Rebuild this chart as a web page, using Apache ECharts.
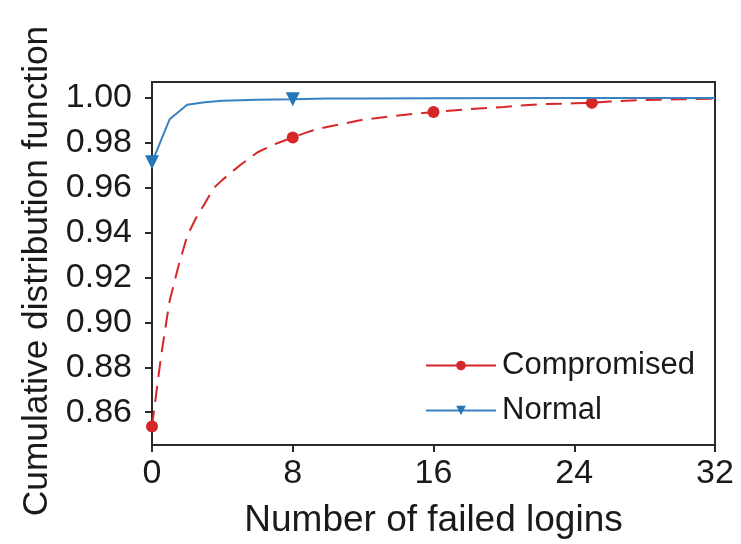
<!DOCTYPE html>
<html>
<head>
<meta charset="utf-8">
<title>CDF of failed logins</title>
<script src="https://cdn.jsdelivr.net/npm/echarts@6/dist/echarts.min.js"></script>
<style>
  html, body { margin: 0; padding: 0; background: #fff; }
  #chart { width: 741px; height: 544px; }
</style>
</head>
<body>
<div id="chart"></div>
<script>
// Number of failed logins (x) and cumulative fraction of accounts (y)
const compromisedX = [0, 0.25, 0.5, 0.75, 1, 1.5, 2, 2.5, 3, 3.5, 4, 5, 6, 7, 8, 9, 10, 12, 14, 16, 18, 20, 22, 24, 25, 26, 28, 30, 32];
const compromisedY = [0.8536, 0.869, 0.884, 0.897, 0.9095, 0.925, 0.9385, 0.9465, 0.953, 0.9598, 0.9635, 0.970, 0.9758, 0.9795, 0.9824, 0.9852, 0.9872, 0.9903, 0.9922, 0.9937, 0.9950, 0.9960, 0.9972, 0.9976, 0.9978, 0.9984, 0.9991, 0.9994, 0.9997];
const compromisedMarks = [0, 8, 16, 25];

const normalX = [0, 1, 2, 3, 4, 5, 6, 8, 10, 12, 16, 24, 32];
const normalY = [0.9713, 0.9905, 0.9970, 0.9981, 0.9987, 0.9990, 0.9992, 0.9994, 0.9997, 0.9998, 0.9999, 1.0, 1.0];
const normalMarks = [0, 8];

const xTicks = [0, 8, 16, 24, 32];
const yTicks = [0.86, 0.88, 0.90, 0.92, 0.94, 0.96, 0.98, 1.00];

const FONT = 'Liberation Sans, Arial, sans-serif';
const INK = '#1a1a1a';
const SPINE = '#2a2a2a';

// Pair x/y values; only the listed x positions carry a marker
function buildPoints(xs, ys, marks) {
  return xs.map((x, i) => marks.indexOf(x) >= 0
    ? { value: [x, ys[i]] }
    : { value: [x, ys[i]], symbol: 'none' });
}

const chart = echarts.init(document.getElementById('chart'));
chart.setOption({
  animation: false,
  backgroundColor: '#fff',
  textStyle: { fontFamily: FONT },
  grid: {
    left: 152, right: 26, top: 82, bottom: 95,
    show: true, borderColor: SPINE, borderWidth: 2, backgroundColor: 'transparent'
  },
  legend: {
    orient: 'vertical',
    left: 420, top: 345,
    itemWidth: 70, itemHeight: 12, itemGap: 14,
    lineStyle: { type: 'solid', width: 2 },
    textStyle: { fontSize: 31, color: INK, fontFamily: FONT, padding: [0, 0, 0, 1] },
    data: ['Compromised', 'Normal']
  },
  xAxis: {
    type: 'value',
    min: 0, max: 32, interval: 8,
    name: 'Number of failed logins',
    nameLocation: 'middle', nameGap: 57,
    nameTextStyle: { fontSize: 37, color: INK, fontFamily: FONT },
    axisLine: { show: true, lineStyle: { color: SPINE, width: 2 } },
    axisTick: { show: true, inside: false, length: 7, lineStyle: { color: SPINE, width: 2 }, customValues: xTicks },
    axisLabel: { fontSize: 34, color: INK, margin: 12, fontFamily: FONT, customValues: xTicks },
    splitLine: { show: false }
  },
  yAxis: {
    type: 'value',
    min: 0.8454, max: 1.0071,
    name: 'Cumulative distribution function',
    nameLocation: 'middle', nameGap: 94,
    nameTextStyle: { fontSize: 35.3, color: INK, fontFamily: FONT, padding: [0, 15, 0, 0] },
    axisLine: { show: true, lineStyle: { color: SPINE, width: 2 } },
    axisTick: { show: true, inside: false, length: 7, lineStyle: { color: SPINE, width: 2 }, customValues: yTicks },
    axisLabel: {
      fontSize: 34, color: INK, margin: 20, fontFamily: FONT,
      customValues: yTicks,
      formatter: v => v.toFixed(2)
    },
    splitLine: { show: false }
  },
  series: [
    {
      name: 'Compromised',
      type: 'line',
      data: buildPoints(compromisedX, compromisedY, compromisedMarks),
      showAllSymbol: true,
      symbol: 'circle', symbolSize: 12,
      itemStyle: { color: '#d62728' },
      lineStyle: { color: '#d62728', width: 2, type: [16, 9] },
      z: 2
    },
    {
      name: 'Normal',
      type: 'line',
      data: buildPoints(normalX, normalY, normalMarks),
      showAllSymbol: true,
      symbol: 'triangle', symbolRotate: 180, symbolSize: 14,
      itemStyle: { color: '#2476b5' },
      lineStyle: { color: '#3a82bf', width: 2 },
      z: 3
    }
  ]
});
</script>
</body>
</html>
